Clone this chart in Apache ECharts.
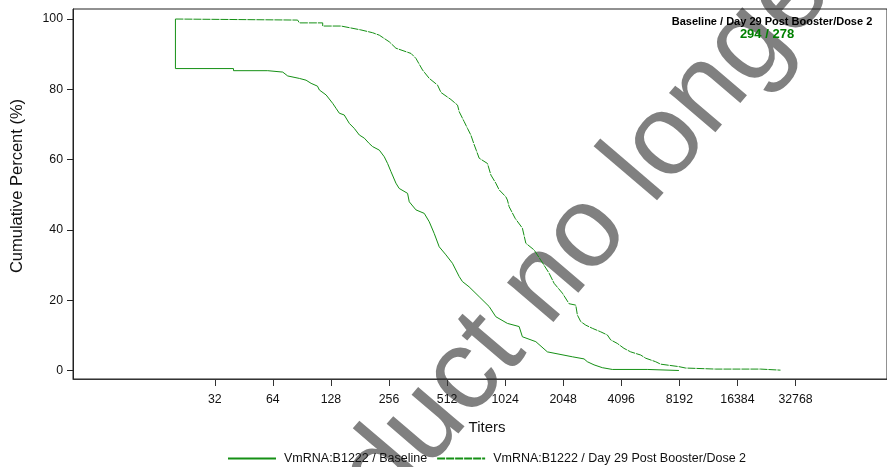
<!DOCTYPE html>
<html><head><meta charset="utf-8">
<script src="https://cdn.jsdelivr.net/npm/echarts@6/dist/echarts.min.js"></script>
<style>html,body{margin:0;padding:0;background:#fff}#c{width:887px;height:467px}</style>
</head><body><div id="c"></div>
<script>
// ---- data ----
const xTickTiters = [32, 64, 128, 256, 512, 1024, 2048, 4096, 8192, 16384, 32768];
const yTickValues = [0, 20, 40, 60, 80, 100];
const seriesNames = ['VmRNA:B1222 / Baseline', 'VmRNA:B1222 / Day 29 Post Booster/Dose 2'];

const baselineTiters = [20,20,40,40,60.2,61.4,72,73.5,76.4,87.8,95.1,101,109,111.5,120.8,130.7,136,141.5,150,159.4,
  169,179.6,190.7,202,210.5,228,242,251.7,262,278,289,319.5,326,353,390,414,439,466,505,546,
  592,615,666,751,846,916,1052,1210,1258,1477,1695,2284,2626,2731,2959,3267,3680,5585,5585,8150];
const baselinePercents = [100,85.9,85.9,85.3,85.3,84.9,84.9,84.5,83.8,83.1,82.6,81.7,80.9,79.8,78.4,76.0,74.6,73.2,72.7,70.3,
  68.9,67.0,66.1,64.6,63.7,62.7,60.8,58.9,56.6,53.3,51.8,50.4,48.0,45.7,44.7,42.3,39.0,35.2,32.9,30.5,
  26.7,25.3,23.8,21.0,18.2,15.3,13.4,12.5,9.6,8.2,5.3,3.9,3.3,2.5,1.6,0.8,0.3,0.3,0,0];

const day29Titers = [20,86,87.8,116,116,144.4,144.4,183,210.5,228,257,278,333,353,382,414,457,476,536,580,
  592,628,653,680,708,725,751,829,864,916,953,1033,1052,1074,1154,1258,1311,1447,1567,1730,
  1837,2028,2196,2379,2425,2525,2681,2900,3205,3469,3610,3906,4230,4582,5164,5480,6172,6553,8150,8829,
  12625,21590,21590,27400];
const day29Percents = [100,99.7,98.9,98.9,98.0,98.0,97.6,96.9,96.1,95.4,93.5,91.7,90.2,88.8,85.5,83.1,81.2,79.1,77.1,75.5,
  73.6,70.8,68.9,67.0,64.2,62.7,60.4,58.9,55.6,53.3,51.4,49.4,48.5,46.6,43.3,40.5,36.2,34.3,31.4,27.7,
  24.8,22.0,19.0,18.6,15.8,13.9,12.9,12.0,11.0,10.1,8.7,7.7,6.3,5.3,4.4,3.5,2.5,1.8,1.1,0.7,
  0.4,0.4,0.1,0.1];

const headerLine1 = 'Baseline / Day 29 Post Booster/Dose 2';
const headerLine2 = '294 / 278';
const xAxisTitle = 'Titers';
const yAxisTitle = 'Cumulative Percent (%)';
const watermarkText = 'Product no longer valid';

// ---- chart ----
const FF = '"Liberation Sans", Arial, sans-serif';
const GREEN = '#159015';
const toXY = (t, p) => t.map((v, i) => [Math.log2(v), p[i]]);

const chart = echarts.init(document.getElementById('c'), null, {renderer: 'canvas'});
chart.setOption({
  animation: false,
  backgroundColor: '#fff',
  grid: {left: 73, top: 9, right: -1, bottom: 88, show: true, borderColor: '#222', borderWidth: 1},
  xAxis: {
    type: 'value', min: 2.558, max: 16.576,
    axisLine: {show: true, onZero: false, lineStyle: {color: '#333', width: 1}},
    axisTick: {show: true, length: 7, customValues: xTickTiters.map(Math.log2), lineStyle: {color: '#333'}},
    axisLabel: {customValues: xTickTiters.map(Math.log2), margin: 15, fontSize: 12.3, fontFamily: FF, color: '#111',
      formatter: v => String(Math.round(Math.pow(2, v)))},
    splitLine: {show: false}
  },
  yAxis: {
    type: 'value', min: -2.42, max: 102.85,
    axisLine: {show: true, onZero: false, lineStyle: {color: '#222', width: 1}},
    axisTick: {show: true, length: 6, customValues: yTickValues, lineStyle: {color: '#222'}},
    axisLabel: {customValues: yTickValues, margin: 10, fontSize: 12.3, fontFamily: FF, color: '#111'},
    splitLine: {show: false}
  },
  legend: {
    left: 222, top: 447, itemWidth: 48, itemHeight: 10, itemGap: 9,
    itemStyle: {opacity: 0},
    textStyle: {fontSize: 12.5, fontFamily: FF, color: '#111', padding: [0, 0, 0, 3]},
    data: seriesNames
  },
  graphic: [
    {type: 'text', x: 246, y: 633, rotation: 49.5 * Math.PI / 180, z: -10, silent: true,
      style: {text: watermarkText, font: '115px ' + FF, fill: '#808080', textAlign: 'left', textVerticalAlign: 'middle'}},
    {type: 'text', x: 17, y: 186, rotation: Math.PI / 2,
      style: {text: yAxisTitle, font: '16.5px ' + FF, fill: '#111', textAlign: 'center', textVerticalAlign: 'middle'}},
    {type: 'text', x: 487, y: 427.5,
      style: {text: xAxisTitle, font: '15px ' + FF, fill: '#111', textAlign: 'center', textVerticalAlign: 'middle'}},
    {type: 'text', x: 772, y: 21.5,
      style: {text: headerLine1, font: 'bold 11px ' + FF, fill: '#000', textAlign: 'center', textVerticalAlign: 'middle'}},
    {type: 'text', x: 767, y: 34.5,
      style: {text: headerLine2, font: 'bold 13px ' + FF, fill: '#008000', textAlign: 'center', textVerticalAlign: 'middle'}}
  ],
  series: [
    {name: seriesNames[0], type: 'line', data: toXY(baselineTiters, baselinePercents), symbol: 'none',
      lineStyle: {color: GREEN, width: 1}, itemStyle: {color: GREEN}, z: 3},
    {name: seriesNames[1], type: 'line', data: toXY(day29Titers, day29Percents), symbol: 'none',
      lineStyle: {color: GREEN, width: 1, type: [8, 1]}, itemStyle: {color: GREEN}, z: 3}
  ]
});
</script></body></html>
